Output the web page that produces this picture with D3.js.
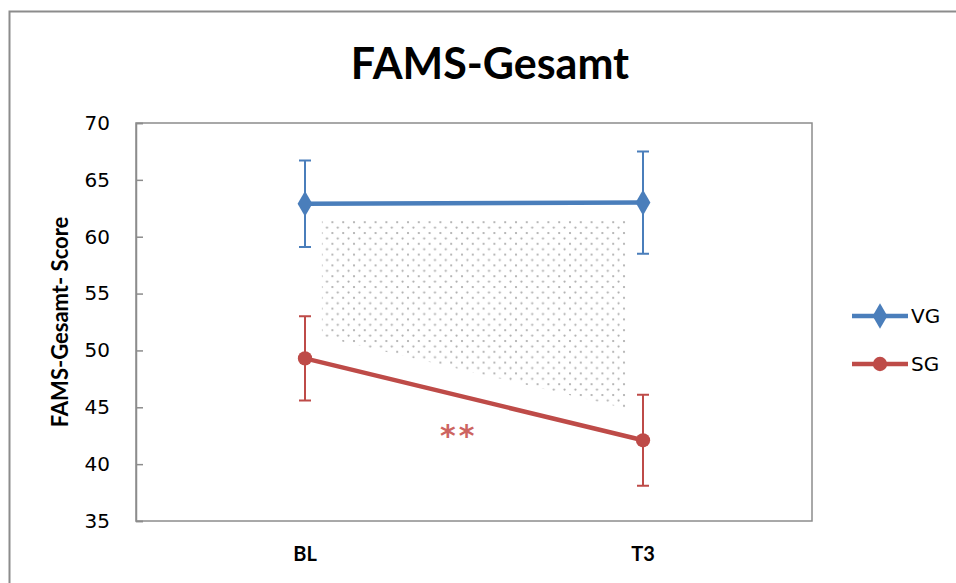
<!DOCTYPE html>
<html>
<head>
<meta charset="utf-8">
<script src="https://cdn.jsdelivr.net/npm/d3@7"></script>
<style>
  body { margin: 0; background: #fff; }
  svg { display: block; }
</style>
</head>
<body>
<svg id="drawing_region"></svg>
<script>
// data
const categories = ['BL', 'T3'];
const vgMean = [62.9, 63.0];
const vgErr = [3.8, 4.5];
const sgMean = [49.3, 42.1];
const sgErr = [3.7, 4.0];
const yTicks = [35, 40, 45, 50, 55, 60, 65, 70];
// shaded area (position 0 = BL, 1 = T3)
const shadePos = [0.05, 0.95];
const shadeTop = [61.4, 61.4];
const shadeBottom = [51.2, 44.9];

const width = 956, height = 583;
const margin = {top: 123, right: 144, bottom: 62, left: 136};
const innerW = width - margin.left - margin.right;
const innerH = height - margin.top - margin.bottom;

const svg = d3.select('#drawing_region')
    .attr('width', width)
    .attr('height', height);

// outer border
svg.append('rect')
    .attr('x', 9.5).attr('y', 11.5)
    .attr('width', width).attr('height', height)
    .attr('fill', 'none')
    .attr('stroke', '#8c8c8c')
    .attr('stroke-width', 2);

svg.append('text')
    .attr('x', 490).attr('y', 79)
    .attr('text-anchor', 'middle')
    .attr('font-family', 'Lato, sans-serif')
    .attr('font-weight', 'bold')
    .attr('font-size', 43)
    .text('FAMS-Gesamt');

const chart = svg.append('g')
    .attr('transform', `translate(${margin.left}, ${margin.top})`);

const xscale = d3.scalePoint()
    .domain(categories)
    .range([0, innerW])
    .padding(0.5);

const yscale = d3.scaleLinear()
    .domain([35, 70])
    .range([innerH, 0]);

const pscale = d3.scaleLinear()
    .domain([0, 1])
    .range([xscale('BL'), xscale('T3')]);

// plot border
chart.append('rect')
    .attr('width', innerW).attr('height', innerH)
    .attr('fill', 'none')
    .attr('stroke', '#8c8c8c')
    .attr('stroke-width', 1.5);

// dotted pattern
const defs = svg.append('defs');
const pat = defs.append('pattern')
    .attr('id', 'dots')
    .attr('patternUnits', 'userSpaceOnUse')
    .attr('width', 10.8).attr('height', 10.8);
pat.append('circle').attr('cx', 2).attr('cy', 2).attr('r', 1.1).attr('fill', '#ababab');
pat.append('circle').attr('cx', 7.4).attr('cy', 7.4).attr('r', 1.1).attr('fill', '#ababab');

const shadeData = shadePos.map((p, i) => ({p: p, top: shadeTop[i], bottom: shadeBottom[i]}));
const area = d3.area()
    .x(d => pscale(d.p))
    .y0(d => yscale(d.bottom))
    .y1(d => yscale(d.top));
chart.append('path')
    .attr('d', area(shadeData))
    .attr('fill', 'url(#dots)');

// y axis
const yaxis = d3.axisLeft(yscale).tickValues(yTicks).tickSize(-7).tickPadding(26);
const yg = chart.append('g').call(yaxis);
yg.select('.domain').attr('stroke', '#8c8c8c').attr('stroke-width', 1.5);
yg.selectAll('.tick line').attr('stroke', '#8c8c8c').attr('stroke-width', 1.5);
yg.selectAll('.tick text')
    .attr('font-family', 'DejaVu Sans, sans-serif')
    .attr('font-size', 20)
    .attr('fill', '#000');

// x labels
chart.selectAll('.xlabel')
    .data(categories)
    .enter()
    .append('text')
    .attr('x', d => xscale(d))
    .attr('y', innerH + 40)
    .attr('text-anchor', 'middle')
    .attr('font-family', 'Lato, sans-serif')
    .attr('font-weight', 'bold')
    .attr('font-size', 20)
    .text(d => d);

// y label
chart.append('text')
    .attr('transform', `translate(-68, ${innerH / 2}) rotate(-90)`)
    .attr('text-anchor', 'middle')
    .attr('font-family', 'Lato, sans-serif')
    .attr('font-weight', 'bold')
    .attr('font-size', 22)
    .text('FAMS-Gesamt- Score');

const series = [
    {name: 'VG', mean: vgMean, err: vgErr, color: '#4a7ebb', shape: d3.symbolDiamond},
    {name: 'SG', mean: sgMean, err: sgErr, color: '#be4b48', shape: d3.symbolCircle}
];

const line = d3.line()
    .x((d, i) => xscale(categories[i]))
    .y(d => yscale(d));

series.forEach(s => {
    const g = chart.append('g');
    const pts = s.mean.map((m, i) => ({c: categories[i], m: m, e: s.err[i]}));
    g.selectAll('.err')
        .data(pts).enter().append('path')
        .attr('d', d => {
            const x = xscale(d.c), y0 = yscale(d.m - d.e), y1 = yscale(d.m + d.e);
            return `M${x - 6},${y1}H${x + 6}M${x},${y1}V${y0}M${x - 6},${y0}H${x + 6}`;
        })
        .attr('stroke', s.color)
        .attr('stroke-width', 2)
        .attr('fill', 'none');
    g.append('path')
        .attr('d', line(s.mean))
        .attr('stroke', s.color)
        .attr('stroke-width', 4.5)
        .attr('fill', 'none');
    g.selectAll('.mark')
        .data(pts).enter().append('path')
        .attr('transform', d => `translate(${xscale(d.c)}, ${yscale(d.m)})`)
        .attr('d', d3.symbol().type(s.shape).size(s.name === 'VG' ? 190 : 160))
        .attr('fill', s.color);
});

// significance
chart.append('text')
    .attr('x', pscale(0.455))
    .attr('y', yscale(41.6))
    .attr('text-anchor', 'middle')
    .attr('font-family', 'DejaVu Sans, sans-serif')
    .attr('font-weight', 'bold')
    .attr('font-size', 30)
    .attr('letter-spacing', 3)
    .attr('fill', '#cd6461')
    .text('**');

// legend
const legend = svg.append('g').attr('transform', 'translate(852, 316)');
series.forEach((s, i) => {
    const g = legend.append('g').attr('transform', `translate(0, ${i * 48})`);
    g.append('line')
        .attr('x1', 0).attr('x2', 56)
        .attr('stroke', s.color).attr('stroke-width', 4.5);
    g.append('path')
        .attr('transform', 'translate(28, 0)')
        .attr('d', d3.symbol().type(s.shape).size(s.name === 'VG' ? 190 : 160))
        .attr('fill', s.color);
    g.append('text')
        .attr('x', 59).attr('y', 0)
        .attr('dy', '0.35em')
        .attr('font-family', 'DejaVu Sans, sans-serif')
        .attr('font-size', 20)
        .text(s.name);
});
</script>
</body>
</html>
